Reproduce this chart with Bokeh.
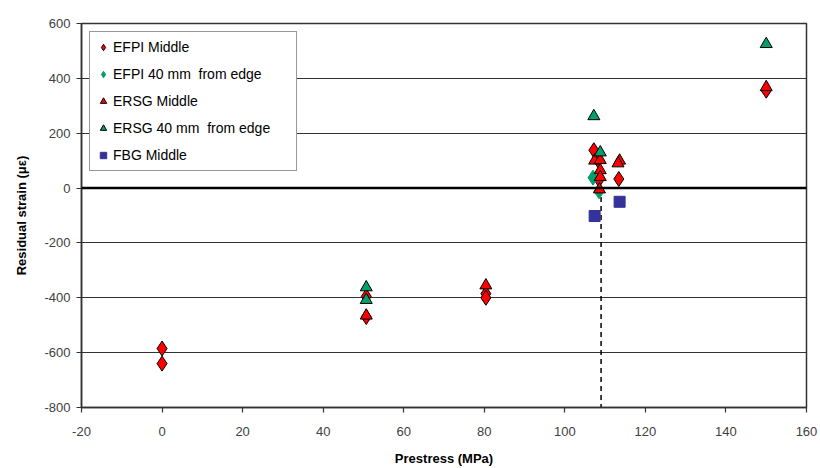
from bokeh.plotting import figure
from bokeh.models import Span, Legend, LegendItem, FixedTicker
from bokeh.embed import file_html
from bokeh.resources import INLINE

# Data
efpi_mid_x = [0, 0, 50.7, 50.7, 80.4, 80.4, 107.2, 108.3, 108.5, 113.4, 150]
efpi_mid_y = [-585, -640, -395, -470, -385, -400, 138, 100, 30, 33, 355]
efpi_edge_x = [107.0, 108.5]
efpi_edge_y = [38, -12]
ersg_mid_x = [50.7, 80.4, 107.4, 108.8, 108.8, 108.8, 108.6, 113.6, 113.2, 150]
ersg_mid_y = [-465, -355, 100, 102, 65, 40, -5, 100, 90, 368]
ersg_edge_x = [50.7, 50.7, 107.2, 108.8, 150]
ersg_edge_y = [-362, -408, 262, 130, 525]
fbg_mid_x = [107.4, 113.6]
fbg_mid_y = [-102, -50]
ref_x = [109]
ref_y0 = [0]
ref_y1 = [-800]
x_ticks = [-20, 0, 20, 40, 60, 80, 100, 120, 140, 160]
y_ticks = [-800, -600, -400, -200, 0, 200, 400, 600]

RED = "#FF0000"
GREEN = "#00A06A"
BLUE = "#333399"
FONT = "Liberation Sans"

p = figure(width=820, height=468, output_backend="svg", toolbar_location=None,
           x_range=(-20, 160), y_range=(-800, 600),
           min_border_left=81, min_border_right=14, min_border_top=23, min_border_bottom=60)

p.outline_line_color = "#333333"
p.outline_line_width = 1.5
p.background_fill_color = "white"
p.border_fill_color = "white"

p.xgrid.grid_line_color = None
p.ygrid.grid_line_color = "#333333"
p.ygrid.grid_line_width = 1.2
p.ygrid.ticker = FixedTicker(ticks=y_ticks)

p.xaxis.ticker = FixedTicker(ticks=x_ticks)
p.yaxis.ticker = FixedTicker(ticks=y_ticks)
p.xaxis.major_label_overrides = {t: str(t) for t in x_ticks}
p.yaxis.major_label_overrides = {t: str(t) for t in y_ticks}
for ax in (p.xaxis[0], p.yaxis[0]):
    ax.axis_line_color = "#333333"
    ax.axis_line_width = 1.5
    ax.major_tick_line_color = "#333333"
    ax.major_tick_line_width = 1.2
    ax.major_tick_out = 5
    ax.major_tick_in = 0
    ax.minor_tick_line_color = None
    ax.major_label_text_font = FONT
    ax.major_label_text_font_size = "13px"
    ax.major_label_text_color = "#404040"
    ax.axis_label_text_font = FONT
    ax.axis_label_text_font_size = "13px"
    ax.axis_label_text_font_style = "bold"
    ax.axis_label_text_color = "black"
p.xaxis.axis_label = "Prestress (MPa)"
p.yaxis.axis_label = "Residual strain (με)"
p.xaxis.major_label_standoff = 14
p.xaxis.axis_label_standoff = 12
p.yaxis.major_label_standoff = 6
p.yaxis.axis_label_standoff = 12

zero = Span(location=0, dimension="width", line_color="black", line_width=2.5)
p.add_layout(zero)

p.segment(x0=ref_x, y0=ref_y0, x1=ref_x, y1=ref_y1, line_color="black",
          line_width=1.5, line_dash="5 4")

r1 = p.scatter(efpi_mid_x, efpi_mid_y, marker="diamond", size=15,
               fill_color=RED, line_color="black", line_width=1)
r2 = p.scatter(efpi_edge_x, efpi_edge_y, marker="diamond", size=15,
               fill_color=GREEN, line_color=GREEN, line_width=1)
r3 = p.scatter(ersg_mid_x, ersg_mid_y, marker="triangle", size=12,
               fill_color=RED, line_color="black", line_width=1)
r4 = p.scatter(ersg_edge_x, ersg_edge_y, marker="triangle", size=12,
               fill_color=GREEN, line_color="black", line_width=1)
r5 = p.scatter(fbg_mid_x, fbg_mid_y, marker="square", size=11,
               fill_color=BLUE, line_color=BLUE, line_width=1)

legend = Legend(items=[
    LegendItem(label="EFPI Middle", renderers=[r1]),
    LegendItem(label="EFPI 40 mm  from edge", renderers=[r2]),
    LegendItem(label="ERSG Middle", renderers=[r3]),
    LegendItem(label="ERSG 40 mm  from edge", renderers=[r4]),
    LegendItem(label="FBG Middle", renderers=[r5]),
], location="top_left")
legend.margin = 8
legend.padding = 5
legend.spacing = 7
legend.glyph_width = 16
legend.glyph_height = 20
legend.label_height = 20
legend.label_width = 178
legend.label_standoff = 2
legend.label_text_font = FONT
legend.label_text_font_size = "14px"
legend.label_text_color = "black"
legend.border_line_color = "#333333"
legend.border_line_width = 1.5
legend.background_fill_color = "white"
legend.background_fill_alpha = 1
p.add_layout(legend)

open("out.html", "w").write(file_html(p, INLINE))
